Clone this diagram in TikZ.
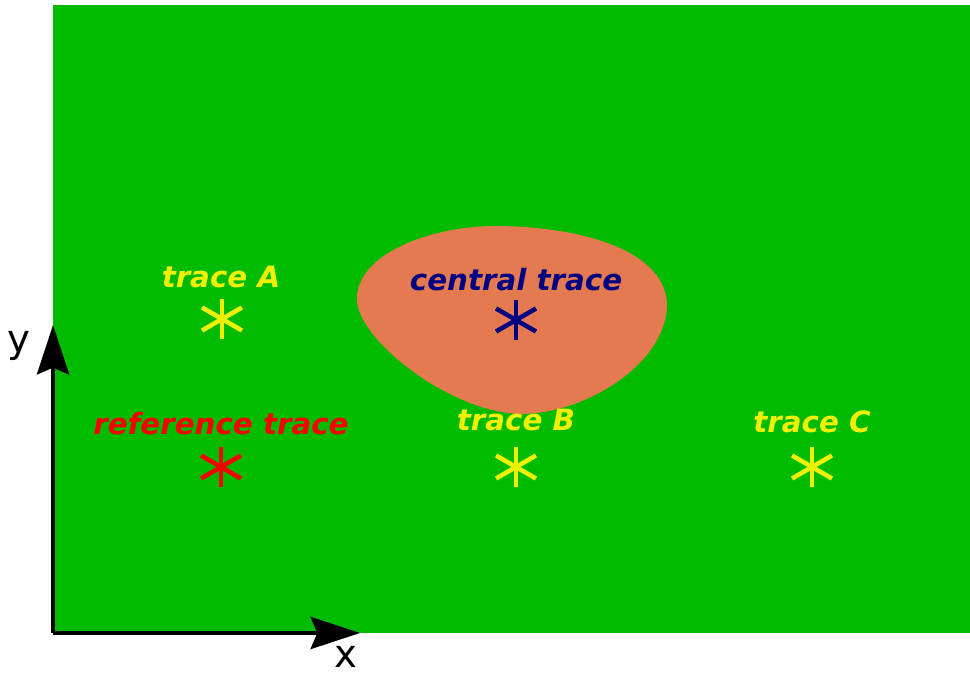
\documentclass[tikz,border=0pt]{standalone}
\usepackage{fontspec}
\setmainfont{DejaVu Sans}
\usetikzlibrary{arrows.meta, calc}

\definecolor{fieldgreen}{RGB}{0,187,0}
\definecolor{blobcolor}{RGB}{229,121,80}
\definecolor{traceyellow}{RGB}{240,240,0}
\definecolor{tracered}{RGB}{250,0,0}
\definecolor{tracenavy}{RGB}{0,0,130}

% asterisk made of three crossed strokes
\newcommand{\tracestar}[2]{%
  \draw[#2, line width=3.4pt] ($(#1)+(0,-20)$) -- ($(#1)+(0,20)$);
  \foreach \ang in {30,-30}
    \draw[#2, line width=3.4pt] ($(#1)+(\ang:23)$) -- ($(#1)+(\ang+180:23)$);
}

\begin{document}
\begin{tikzpicture}[x=0.75pt, y=-0.75pt,
    tracelabel/.style={font=\fontsize{22}{26}\selectfont\bfseries\itshape, anchor=base, inner sep=0pt},
    axislabel/.style={font=\fontsize{29}{34}\selectfont, inner sep=0pt},
    axisline/.style={line width=3.2pt, -{Stealth[length=37pt, width=24pt, inset=5pt]}}]
    \useasboundingbox (0,0) rectangle (970,675);

    % Background field
    \fill[fieldgreen] (53,5) rectangle (970,633);

    % The region round the central trace
    \fill[blobcolor] (357,300) .. controls (355,255) and (430,225) .. (500,226)
      .. controls (580,227) and (668,250) .. (667,307)
      .. controls (664,365) and (585,414) .. (520,414)
      .. controls (450,412) and (358,340) .. (357,300) -- cycle;

    % Define the trace positions
    \coordinate (A) at (222,319);
    \coordinate (C0) at (516,320);
    \coordinate (R) at (221,467);
    \coordinate (B) at (516,467);
    \coordinate (C) at (812,467);

    % Draw the asterisks
    \tracestar{A}{traceyellow}
    \tracestar{C0}{tracenavy}
    \tracestar{R}{tracered}
    \tracestar{B}{traceyellow}
    \tracestar{C}{traceyellow}

    % Label the traces
    \node[tracelabel, text=traceyellow] (labA) at (221,287) {trace A};
    \node[tracelabel, text=tracenavy] (labC0) at (516,290) {central trace};
    \node[tracelabel, text=tracered] (labR) at (221,434) {reference trace};
    \node[tracelabel, text=traceyellow] (labB) at (516,430) {trace B};
    \node[tracelabel, text=traceyellow] (labC) at (812,432) {trace C};

    % Axes
    \coordinate (O) at (53,633);
    \coordinate (xend) at (360,633);
    \coordinate (yend) at (53,325);
    \draw[axisline] (O) -- (xend);
    \draw[axisline] (O) -- (yend);
    \node[axislabel] (xlab) at (346,657) {x};
    \node[axislabel] (ylab) at (19,346) {y};
  \end{tikzpicture}
\end{document}
